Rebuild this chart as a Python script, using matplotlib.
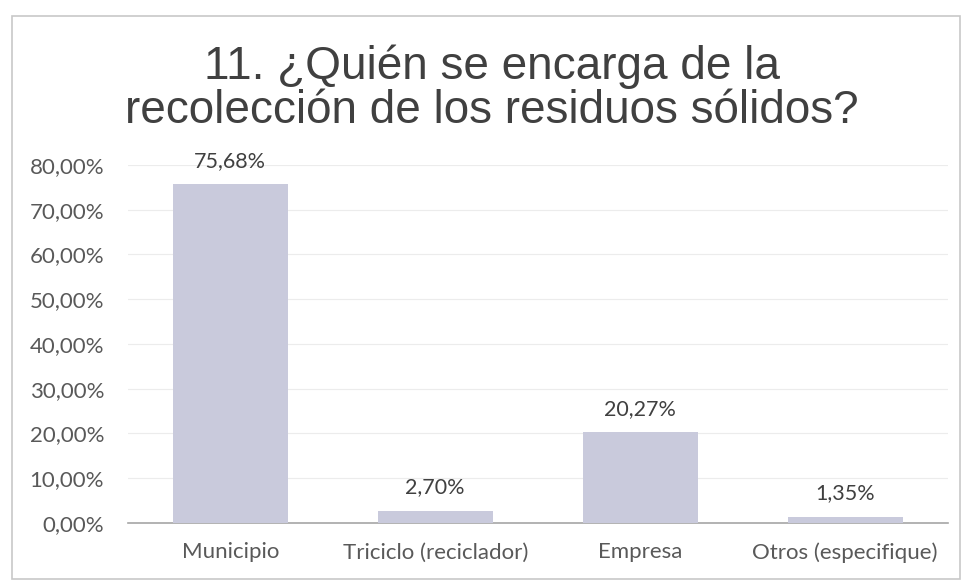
import numpy as np
import matplotlib.pyplot as plt
from matplotlib.patches import Rectangle
from matplotlib.ticker import FuncFormatter

categorias = ['Municipio', 'Triciclo (reciclador)', 'Empresa', 'Otros (especifique)']
porcentajes = [75.68, 2.70, 20.27, 1.35]
yticks = [0, 10, 20, 30, 40, 50, 60, 70, 80]

plt.rcParams['font.family'] = ['Lato', 'DejaVu Sans']

fig = plt.figure(figsize=(9.68, 5.85), dpi=100)
ax = fig.add_axes([0.132, 0.106, 0.847, 0.612])

# marco del grafico
fig.patches.append(Rectangle((0.012, 0.01), 0.98, 0.962, transform=fig.transFigure,
                             fill=False, edgecolor='#c8c8c8', linewidth=1.2))

x = np.arange(len(categorias))
bars = ax.bar(x, porcentajes, width=0.56, color='#c9cadc', edgecolor='none', zorder=3)

for xi, v in zip(x, porcentajes):
    ax.text(xi, v + 3.0, f'{v:.2f}%'.replace('.', ','), ha='center', va='bottom',
            fontsize=15.5, color='#404040')

ax.set_ylim(0, 80)
ax.set_xlim(-0.5, len(categorias) - 0.5)
ax.set_yticks(yticks)
ax.yaxis.set_major_formatter(FuncFormatter(lambda v, p: f'{v:.2f}%'.replace('.', ',')))
ax.set_xticks(x)
ax.set_xticklabels(categorias)
ax.tick_params(axis='both', length=0, labelsize=16, labelcolor='#595959')
ax.tick_params(axis='x', pad=14)
ax.tick_params(axis='y', pad=17)

ax.grid(axis='y', color='#ececec', linewidth=0.8, zorder=0)
for s in ['top', 'right', 'left']:
    ax.spines[s].set_visible(False)
ax.spines['bottom'].set_color('#a6a6a6')
ax.spines['bottom'].set_linewidth(1.2)

fig.text(0.508, 0.848, '11. ¿Quién se encarga de la\nrecolección de los residuos sólidos?',
         ha='center', va='center', fontsize=33, color='#404040',
         family=['Liberation Sans', 'DejaVu Sans'], linespacing=1.0)

plt.savefig('out.png', dpi=100)
